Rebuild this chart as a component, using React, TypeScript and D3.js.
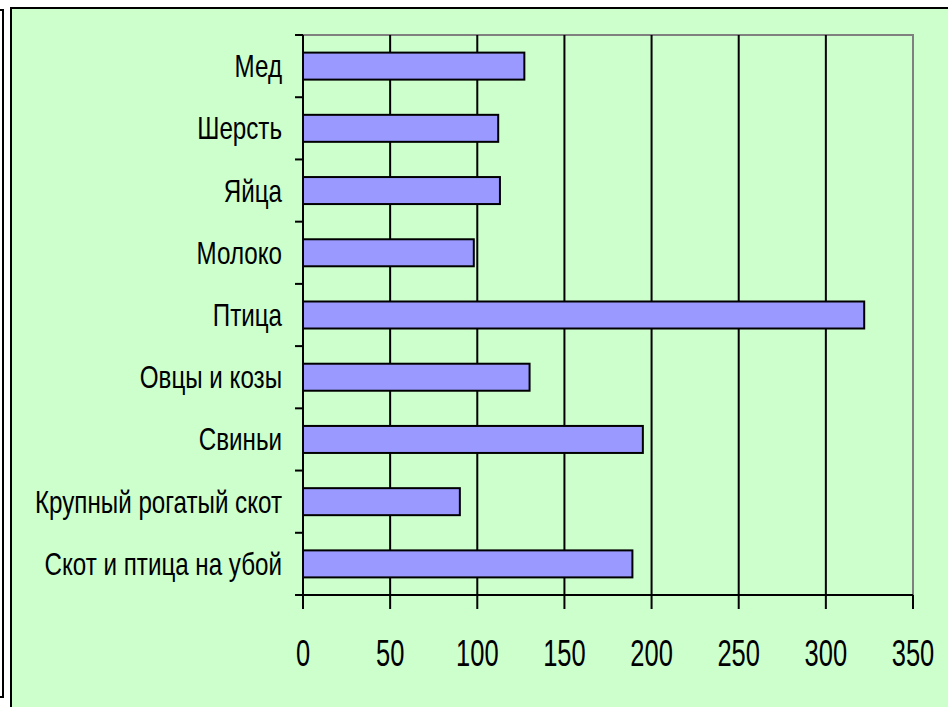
import React, { useEffect } from "react";
import * as d3 from "d3";

// categories from top to bottom
const categories = [
  "Мед",
  "Шерсть",
  "Яйца",
  "Молоко",
  "Птица",
  "Овцы и козы",
  "Свиньи",
  "Крупный рогатый скот",
  "Скот и птица на убой",
];
const values = [127, 112, 113, 98, 322, 130, 195, 90, 189];
const xTicks = [0, 50, 100, 150, 200, 250, 300, 350];

const W = 948;
const H = 707;
const plot = { left: 303, right: 913, top: 35, bottom: 595 };
const FONT = "'Liberation Sans', Arial, sans-serif";

const App = () => {
  useEffect(() => {
    document.body.style.margin = "0";
  }, []);

  const x = d3.scaleLinear().domain([0, 350]).range([plot.left, plot.right]);
  const y = d3
    .scaleBand()
    .domain(categories)
    .range([plot.top, plot.bottom])
    .paddingInner(0.566)
    .paddingOuter(0.283);
  const step = y.step();
  const bw = y.bandwidth();

  return (
    <svg width={W} height={H} style={{ display: "block" }}>
      {/* left bracket of the outer frame */}
      <path d="M0,10 H3 V697 H0" fill="none" stroke="#000" strokeWidth={2} />
      {/* chart area */}
      <rect x={11} y={8} width={W} height={H} fill="#CCFFCC" stroke="#000" strokeWidth={2} />

      {/* plot border (top and right, gray) */}
      <path
        d={`M${plot.left},${plot.top} H${plot.right} V${plot.bottom}`}
        fill="none"
        stroke="#808080"
        strokeWidth={2}
      />

      {/* vertical gridlines */}
      {xTicks
        .filter((t) => t > 0 && t < 350)
        .map((t) => (
          <line key={"g" + t} x1={x(t)} x2={x(t)} y1={plot.top} y2={plot.bottom} stroke="#000" strokeWidth={2} />
        ))}

      {/* bars */}
      {categories.map((c, i) => (
        <rect
          key={c}
          x={x(0)}
          y={y(c)}
          width={x(values[i]) - x(0)}
          height={bw}
          fill="#9999FF"
          stroke="#000"
          strokeWidth={2}
        />
      ))}

      {/* axes */}
      <line x1={plot.left} x2={plot.left} y1={plot.top} y2={plot.bottom} stroke="#000" strokeWidth={2} />
      <line x1={plot.left} x2={plot.right} y1={plot.bottom} y2={plot.bottom} stroke="#000" strokeWidth={2} />

      {/* y ticks at category boundaries */}
      {d3.range(categories.length + 1).map((i) => (
        <line
          key={"yt" + i}
          x1={plot.left - 8}
          x2={plot.left}
          y1={plot.top + i * step}
          y2={plot.top + i * step}
          stroke="#000"
          strokeWidth={2}
        />
      ))}

      {/* x ticks */}
      {xTicks.map((t) => (
        <line key={"xt" + t} x1={x(t)} x2={x(t)} y1={plot.bottom} y2={plot.bottom + 14} stroke="#000" strokeWidth={2} />
      ))}

      {/* category labels */}
      {categories.map((c) => (
        <text
          key={"l" + c}
          transform={`translate(${plot.left - 21},${(y(c) as number) + bw / 2 + 11}) scale(0.78,1)`}
          textAnchor="end"
          fontFamily={FONT}
          fontSize={31}
          fill="#000"
        >
          {c}
        </text>
      ))}

      {/* x tick labels */}
      {xTicks.map((t) => (
        <text
          key={"xl" + t}
          transform={`translate(${x(t)},666) scale(0.69,1)`}
          textAnchor="middle"
          fontFamily={FONT}
          fontSize={37}
          fill="#000"
        >
          {t}
        </text>
      ))}
    </svg>
  );
};

export default App;
